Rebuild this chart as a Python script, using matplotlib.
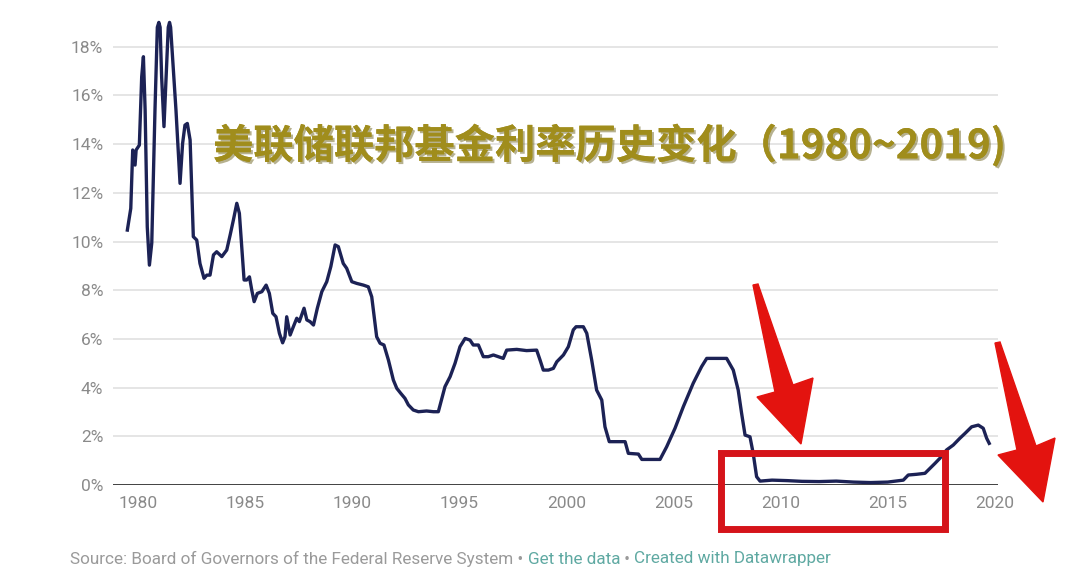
import matplotlib
matplotlib.use("Agg")
import matplotlib.pyplot as plt
import matplotlib.patheffects as pe
from matplotlib.patches import Polygon, Rectangle

# ---- data ----
years = [1979.50, 1979.66, 1979.75, 1979.86, 1979.91, 1980.06, 1980.17, 1980.25, 1980.33, 1980.43,
         1980.53, 1980.64, 1980.79, 1980.90, 1980.97, 1981.03, 1981.10, 1981.21, 1981.31, 1981.41,
         1981.47, 1981.52, 1981.65, 1981.77, 1981.96, 1982.08, 1982.19, 1982.30, 1982.43, 1982.58,
         1982.74, 1982.89, 1983.08, 1983.21, 1983.36, 1983.52, 1983.67, 1983.91, 1984.14, 1984.30,
         1984.45, 1984.61, 1984.73, 1984.84, 1984.95, 1985.07, 1985.20, 1985.31, 1985.42, 1985.57,
         1985.78, 1985.98, 1986.13, 1986.29, 1986.44, 1986.60, 1986.75, 1986.86, 1986.94, 1987.10,
         1987.25, 1987.41, 1987.53, 1987.75, 1987.88, 1988.03, 1988.19, 1988.37, 1988.58, 1988.81,
         1989.00, 1989.20, 1989.35, 1989.58, 1989.74, 1989.98, 1990.21, 1990.52, 1990.75, 1990.91,
         1991.14, 1991.30, 1991.48, 1991.69, 1991.92, 1992.08, 1992.26, 1992.46, 1992.62, 1992.85,
         1993.09, 1993.47, 1993.79, 1994.02, 1994.33, 1994.57, 1994.80, 1995.03, 1995.27, 1995.50,
         1995.65, 1995.89, 1996.12, 1996.35, 1996.59, 1996.82, 1997.05, 1997.21, 1997.68, 1998.14,
         1998.61, 1998.77, 1998.92, 1999.16, 1999.39, 1999.55, 1999.86, 2000.09, 2000.32, 2000.45,
         2000.79, 2000.95, 2001.18, 2001.41, 2001.65, 2001.80, 2002.00, 2002.74, 2002.89, 2003.36,
         2003.52, 2004.37, 2004.68, 2005.07, 2005.46, 2005.92, 2006.31, 2006.55, 2007.48, 2007.79,
         2008.02, 2008.18, 2008.34, 2008.57, 2008.72, 2008.88, 2009.04, 2009.60, 2010.30, 2011.00,
         2011.80, 2012.60, 2013.40, 2014.20, 2015.00, 2015.73, 2015.96, 2016.35, 2016.74, 2016.97,
         2017.21, 2017.44, 2017.75, 2018.06, 2018.37, 2018.61, 2018.92, 2019.23, 2019.46, 2019.62,
         2019.74]
rates = [10.47, 11.36, 13.76, 13.14, 13.76, 13.96, 16.77, 17.59, 15.40, 10.60,
         9.03, 9.94, 15.40, 18.80, 19.00, 18.80, 16.77, 14.72, 16.77, 18.80,
         19.00, 18.80, 17.04, 15.40, 12.39, 14.03, 14.78, 14.85, 14.17, 10.20,
         10.06, 9.10, 8.49, 8.62, 8.62, 9.45, 9.58, 9.38, 9.65, 10.27,
         10.88, 11.57, 11.16, 9.79, 8.42, 8.42, 8.55, 8.00, 7.53, 7.87,
         7.94, 8.21, 7.87, 7.05, 6.91, 6.23, 5.84, 6.09, 6.91, 6.16,
         6.50, 6.85, 6.71, 7.26, 6.78, 6.71, 6.57, 7.26, 7.94, 8.35,
         8.97, 9.86, 9.79, 9.10, 8.90, 8.35, 8.28, 8.21, 8.14, 7.73,
         6.09, 5.82, 5.75, 5.13, 4.31, 3.97, 3.77, 3.56, 3.29, 3.08,
         3.01, 3.04, 3.01, 3.01, 4.04, 4.45, 5.00, 5.68, 6.02, 5.95,
         5.75, 5.75, 5.27, 5.27, 5.34, 5.27, 5.20, 5.54, 5.57, 5.52,
         5.54, 5.13, 4.72, 4.72, 4.79, 5.06, 5.34, 5.68, 6.37, 6.50,
         6.50, 6.23, 5.13, 3.90, 3.49, 2.39, 1.78, 1.78, 1.30, 1.27,
         1.05, 1.05, 1.57, 2.33, 3.22, 4.18, 4.86, 5.20, 5.20, 4.72,
         3.90, 2.94, 2.05, 1.98, 1.30, 0.34, 0.16, 0.20, 0.18, 0.15,
         0.14, 0.16, 0.12, 0.10, 0.12, 0.20, 0.41, 0.44, 0.48, 0.68,
         0.89, 1.10, 1.44, 1.64, 1.92, 2.12, 2.39, 2.46, 2.33, 1.92,
         1.71]

x_ticks = [1980, 1985, 1990, 1995, 2000, 2005, 2010, 2015, 2020]
y_ticks = [0, 2, 4, 6, 8, 10, 12, 14, 16, 18]
y_ticklabels = ["0%", "2%", "4%", "6%", "8%", "10%", "12%", "14%", "16%", "18%"]

title = "美联储联邦基金利率历史变化（1980~2019)"
source_parts = [("Source: Board of Governors of the Federal Reserve System • ", "#9a9a9a"),
                ("Get the data", "#5fa9a2"),
                (" • ", "#9a9a9a"),
                ("Created with Datawrapper", "#5fa9a2")]

# ---- figure ----
W, H = 1080, 578
fig = plt.figure(figsize=(W / 100, H / 100), dpi=100)
fig.patch.set_facecolor("white")

ax = fig.add_axes([113 / W, 1 - 485 / H, 885 / W, (485 - 22.4) / H])
ax.set_xlim(1978.83, 2020.15)
ax.set_ylim(0, 19)
for s in ax.spines.values():
    s.set_visible(False)

for yv in y_ticks[1:]:
    ax.axhline(yv, color="#e3e3e3", lw=1.3, zorder=1)
ax.axhline(0, color="#333333", lw=1.3, zorder=3)

ax.plot(years, rates, color="#1c2255", lw=2.4, solid_joinstyle="round", zorder=4, clip_on=False)

ax.set_yticks(y_ticks)
ax.set_yticklabels(y_ticklabels)
ax.set_xticks(x_ticks)
ax.set_xticklabels([str(t) for t in x_ticks])
ax.tick_params(axis="both", length=0, labelsize=12.5, labelcolor="#8a8a8a")
ax.tick_params(axis="y", pad=7)
ax.tick_params(axis="x", pad=8)
for lab in ax.get_xticklabels() + ax.get_yticklabels():
    lab.set_family("Roboto")

# ---- title ----
fig.text(213 / W, 1 - 146 / H, title, family=["Noto Sans CJK SC", "DejaVu Sans"],
         fontsize=29, fontweight="bold", color="#a08d1c", ha="left", va="center",
         path_effects=[pe.withSimplePatchShadow(offset=(1.5, -1.5), shadow_rgbFace="#6e6420", alpha=0.5),
                       pe.Normal()], zorder=10)

# ---- red annotations (pixel coords -> figure fraction) ----
def P(pts):
    return [(x / W, 1 - y / H) for x, y in pts]

red = "#e3130f"
fig.add_artist(Rectangle((721 / W, 1 - 529 / H), (945 - 721) / W, (529 - 453) / H,
                         transform=fig.transFigure, fill=False, edgecolor="#d5141a", lw=5, zorder=20))
arrow1 = [(753, 285), (758, 284), (793, 385), (813, 378), (801, 444), (757, 397), (775, 392)]
arrow2 = [(995, 343), (1000, 342), (1036, 446), (1055, 438), (1043, 502), (998, 455), (1017, 450)]
for a in (arrow1, arrow2):
    fig.add_artist(Polygon(P(a), closed=True, transform=fig.transFigure, facecolor=red,
                           edgecolor=red, lw=1, zorder=21))

# ---- source line ----
fig.canvas.draw()
renderer = fig.canvas.get_renderer()
x = 70
for txt, col in source_parts:
    t = fig.text(x / W, 1 - 559 / H, txt, family="Roboto", fontsize=12.3, color=col,
                 ha="left", va="center")
    bb = t.get_window_extent(renderer=renderer)
    x += bb.width

fig.savefig("out.png", dpi=100, facecolor="white")
